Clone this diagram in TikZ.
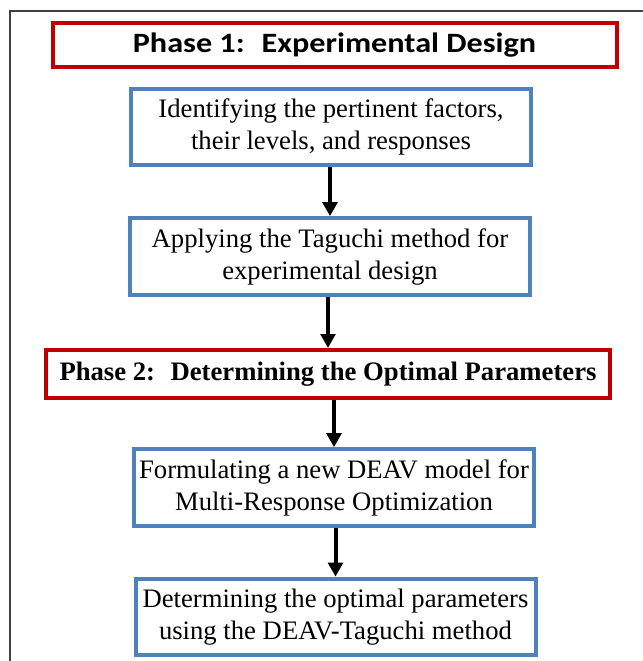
\documentclass[tikz,border=0pt]{standalone}
\usepackage{fontspec}
\setmainfont{Liberation Serif}
\newfontfamily\headfont{Carlito}[FakeStretch=1.15]
\usetikzlibrary{arrows.meta}

\definecolor{phasered}{HTML}{C00000}
\definecolor{stepblue}{HTML}{4F81BD}
\definecolor{framegray}{HTML}{404040}

\tikzset{
  phase/.style={draw=phasered, line width=3pt, rectangle, minimum width=423pt,
    inner sep=1pt, font=\fontsize{20}{24}\selectfont\bfseries},
  stepbox/.style={draw=stepblue, line width=3pt, rectangle, minimum width=300pt,
    minimum height=57.5pt, inner sep=1pt, align=center,
    font=\fontsize{20}{24}\selectfont},
  flow/.style={-{Triangle[length=10.5pt,width=11pt]}, line width=3pt}
}

\begin{document}
\begin{tikzpicture}[x=0.75pt,y=-0.75pt]
\useasboundingbox (0,0) rectangle (643,661);
% outer frame (runs off the page at right and bottom)
\draw [framegray, line width=1.5pt] (10,661) -- (10,11) -- (643,11);

% phase 1
\node [phase, minimum height=33pt, font=\headfont\fontsize{21}{25}\selectfont\bfseries]
  (ph1) at (334.5,45) {Phase 1:~ Experimental Design};
\node [stepbox] (factors) at (331,127) {Identifying the pertinent factors,\\their levels, and responses};
\node [stepbox] (taguchi) at (330,256.5) {Applying the Taguchi method for\\experimental design};

% phase 2
\node [phase, minimum height=36pt] (ph2) at (328,374) {Phase 2:~ Determining the Optimal Parameters};
\node [stepbox] (deav) at (334,487.5) {Formulating a new DEAV model for\\Multi-Response Optimization};
\node [stepbox] (optimal) at (335.5,617) {Determining the optimal parameters\\using the DEAV-Taguchi method};

% arrows
\draw [flow] (taguchi.north |- factors.south) -- (taguchi.north);
\draw [flow] (ph2.north |- taguchi.south) -- (ph2.north);
\draw [flow] (deav.north |- ph2.south) -- (deav.north);
\draw [flow] (optimal.north |- deav.south) -- (optimal.north);
\end{tikzpicture}
\end{document}
